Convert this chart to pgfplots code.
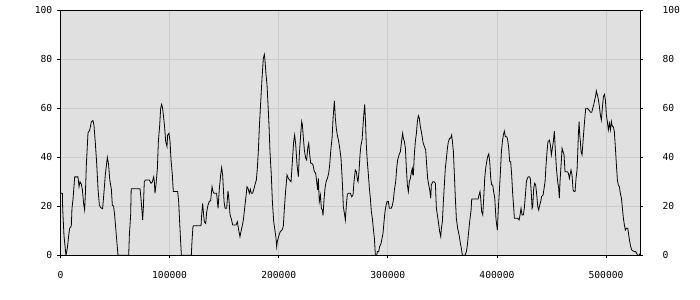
\documentclass[border=0pt]{standalone}
\usepackage{fontspec}
\setmonofont{DejaVu Sans Mono}
\usepackage{pgfplots}
\pgfplotsset{compat=1.18}
\definecolor{bg}{HTML}{E0E0E0}
\definecolor{gridc}{HTML}{CCCCCC}
\begin{document}
\begin{tikzpicture}
\pgfplotsset{
  common/.style={
    scale only axis, width=579.8bp, height=245bp,
    at={(0,0)}, anchor=south west,
    xmin=0, xmax=531400, ymin=0, ymax=100,
    ytick={0,20,...,100},
    tick label style={font=\ttfamily\fontsize{9.7}{11}\selectfont, inner sep=0pt},
    /pgf/number format/assume math mode=true,
    tick align=outside,
    major tick length=3bp,
    tick style={black, line width=0.8bp},
    axis line style={black, line width=0.8bp},
  }
}
\begin{axis}[common,
  axis background/.style={fill=bg},
  xtick={0,100000,200000,300000,400000,500000},
  scaled x ticks=false,
  xticklabel={\pgfmathprintnumber[fixed,precision=0,1000 sep={},assume math mode=true]{\tick}},
  xticklabel style={anchor=north, yshift=-13bp},
  yticklabel style={anchor=east, xshift=-5bp},
  grid=major, major grid style={gridc, line width=0.8bp},
  ytick pos=left, xtick pos=bottom,
]
\addplot[black, line width=0.8bp] coordinates {
(0,25.3)(1700,25.3)(2000,19)(3200,8)(5000,0)(6300,3)(7500,8)(8400,11)(9900,12)(10500,19)
(11500,23)(13000,32)(16000,32)(17000,28)(17900,30)(19100,29)(20000,27)(21200,21)(22100,18.5)(22800,25)
(23700,37)(25200,50)(26700,51)(28300,54.5)(29800,55)(30700,53)(31900,46)(33100,38)(34400,27)(35600,20.5)
(36800,19.5)(38600,19)(39900,26)(41100,33)(42300,37.5)(42900,40)(44100,37)(45100,31)(46600,27)(47500,20.5)
(48700,20)(49600,16.5)(51200,8)(52700,0)(62500,0)(63100,8)(64300,16.5)(64800,27.2)
(72900,27.2)(73800,23)(74700,18)(75300,14.4)(75900,19)(76800,30)(77800,30.7)(81400,30.7)(83000,29.4)(84200,30)
(85400,32)(86000,30)(86600,25.3)(87500,28.7)(88800,35.5)(89700,46.4)(90900,53)(91800,60)(92700,61.6)(93600,60)
(94600,56)(95500,52)(96400,46.4)(97600,44.4)(98200,49)(99400,49.8)(100400,46.4)(101300,39)(102500,32.8)(103400,26)
(107400,26)(108300,22)(109200,13.7)(110100,5.6)(110800,0)(119900,0)(120500,5.6)(121400,11.7)(122100,12.1)(128800,12.1)
(129400,16.5)(130300,21.2)(130900,18)(131800,13.7)
(133100,13)(134000,17.8)(135200,20.5)(136400,22)(137600,22.3)(138900,28)(139800,26)(140700,25.3)(143100,25.3)(144400,19.2)
(145600,27.3)(146800,32.8)(147700,35.8)(148600,32.8)(149900,22)(150800,19.2)(152300,19.2)(153500,26.3)(154400,22.6)(155400,16.5)
(156600,14.8)(157800,12.4)(160900,12.4)(162100,13.7)(163300,10.3)(164500,7.6)(165100,9)(166100,11)(167600,14.4)(168800,19.2)
(170000,24)(170900,28)(171900,27.3)(173100,25.3)(174000,27)(174900,25.3)(176100,25.3)(177400,27.3)(178600,29.4)(179500,30.7)
(180400,35.5)(181300,42.3)(182200,51.8)(183500,62.7)(184700,72.2)(185900,80.4)(186800,82)(187400,79.7)(188400,73.6)(189300,69.5)
(190200,61.4)(191100,53.2)(192000,42.3)(193200,32.8)(194200,22)(195400,13.7)(196300,11)(197500,7)(198100,3.5)(198700,5.6)
(200300,8.3)(201500,9.7)(203000,10.3)(204200,11.7)(205200,19.2)(206400,26.7)(207600,32.8)(208800,31.4)(210100,30.7)(211300,30)
(212500,38.2)(213700,46.4)(214600,49.1)(215600,45)(216800,36.9)(218000,32.1)(218900,41)(220100,49.1)(221100,54.6)(221700,53.2)
(222600,47.8)(223500,43)(224700,39.6)(225600,38.9)(226600,43.7)(227500,45.7)(228400,41)(229300,37.6)(230200,37.6)(231400,36.9)
(232700,34.1)(233900,33.5)(234800,30)(235700,26.7)(236300,31.4)(237200,21.9)(238200,24.6)(239100,19.2)(240000,18.5)(240600,16.2)
(241500,22.6)(242400,27.3)(243400,30)(244600,31.4)(245800,33.5)(246700,36.9)(247900,43.7)(248900,47.8)(249800,55.9)(251000,63)
(251900,55.9)(252800,51.8)(253700,49.1)(255000,46.4)(255900,43.7)(257100,39.6)(258300,30)(259200,19.9)(260200,17.1)(261100,14.4)
(262000,20.5)(262900,24.9)(263800,25.3)(265700,25.3)
(266900,23.9)(268100,24.6)(269000,30)(270200,34.8)(271200,34.1)(272100,30.7)(272700,30)(273600,34.1)(274500,41)(275400,45)
(276400,47)(277300,53.2)(278200,58.6)(278800,61.6)(279400,55.9)(280300,45)(281200,38.2)(282200,32.8)(283100,27.3)(284000,23.3)
(284900,17.8)(285800,15.1)(286700,11)(287700,6.9)(288600,0)(289800,0)(290400,1.5)(291600,1.5)(292500,3.5)(293800,4.9)
(294700,6.9)(295600,9)(296500,13.7)(297400,17.8)(298400,20.5)(299300,21.9)(300500,21.9)(301400,19.2)(303200,19.2)(304200,20.5)
(305100,22.6)(306000,26.7)(307200,30)(308100,35.5)(309000,38.9)(310300,41)(311500,42.3)(312700,47)(313600,49.8)(314200,47.8)
(315200,46.4)(316100,43.7)(317000,35.5)(317900,28.7)(318800,26)(319700,30)(320700,31.4)(321600,34.1)(322500,35.5)(322800,32.8)
(323400,32.8)(324300,41)(325200,46.4)(326200,49.8)(327100,54.6)(328000,57)(328900,55.9)(329800,52.5)(330700,50.5)(331700,47.8)
(332300,46)(333800,44)(334700,43)(335600,36.9)(336500,31.4)(337500,28.7)(338400,26.7)(339300,23.3)(339900,28.7)(341100,30)
(342400,30)(343600,29.4)(344500,19.2)(345400,16.5)(346300,13.7)(347500,9.7)(348500,7.6)(349100,11)(350000,13.7)(350900,21.9)
(351800,28.7)(352700,35.5)(353700,39.6)(354600,43.7)(355500,46.4)(356700,47.8)(357600,47.8)(358500,49.1)(359200,46.4)(360100,42.3)
(361000,32.8)(361900,23.3)(362800,15.1)(364000,11)(365300,8.3)(366500,4.9)(367400,2.9)(368300,0)(370800,0)(372000,1.5)
(372900,4.2)(373800,8.3)(375000,13.7)(376300,18.5)(376900,23)(382700,23)(383600,24.6)(384500,26)(385100,23.3)(386000,17.8)
(387000,16.5)(387900,23.3)(388800,31.4)(389700,35.5)(390600,38.2)(391500,40.3)(392500,41.4)(393400,38.2)(394300,31.4)(395200,28.7)
(396100,28.7)(397000,26)(398000,23.3)(398900,16.5)
(399200,14.5)(400400,10.3)(401300,19.2)(402200,26)(403200,34.1)(404100,42.3)(405000,46.4)(405900,49.1)(406800,50.7)(407700,48.4)
(409000,48.4)(409900,47)(410800,43.7)(411700,38.2)(412600,38.2)(413500,32.8)(414500,24.6)(415400,19.2)(416000,15.1)(419000,15.1)
(420300,14.4)(421200,16.5)(422100,19.2)(423000,16.5)(424200,16.5)(425100,19.2)(426100,24.6)(427000,30)(427900,31.4)(428800,32.1)
(429700,32.1)(430600,31.4)(431600,24.6)(432200,19.2)(432800,19.9)(433700,27.3)(434600,29.4)(435500,28.7)(436500,24.6)(437400,19.9)
(438300,18.5)(439200,20.5)(440100,21.9)(441000,24)(442300,24.6)(443200,27.3)(444100,30)(445000,36.9)(445900,42.3)(446800,46.4)
(448100,47)(449000,45)(449900,41)(450800,43.7)(451700,46.4)(452600,50.7)(453600,42.3)(454500,35.5)(455700,30)(456600,27.3)
(457200,23.3)(457800,30)(458800,36.9)(459700,43.7)(460600,42.3)(461500,41)(462400,34.1)(464600,34.1)(465500,33.5)(466400,31.4)
(467000,32.8)(467900,34.8)(468800,32.8)(469800,26.7)(470700,26)(471600,26)(472500,31.4)(473400,34.8)(474000,41)(474600,49.1)
(475300,54.6)(475900,49.1)(476500,46.4)(477100,42.3)(478000,41)(478900,46.4)(479800,51.8)(480800,57.3)(481400,60)(482900,60)
(484400,59.3)(485600,58.4)(486900,58.4)(487800,60)(488700,61.4)(489600,63.4)(490500,65.2)(491100,67.1)(492100,65.4)(493000,63.4)
(493900,60.7)(494800,57.3)(495700,55.2)(496600,60)(497600,64.8)(498500,65.7)(499400,63.4)(500300,57.3)(501200,54.6)(502100,51.2)
(503100,53.9)(504000,51.2)(504900,54.6)(505800,52.5)(506700,52.5)(507600,50.5)(508600,43.7)(509500,36.9)(510400,30.7)(511300,28.7)
(512200,28)(513100,25.3)(514100,23.3)(515000,19.2)(515900,15.1)(516800,12.4)(517700,10.3)(518600,11)(519900,11)(520800,8.3)
(521700,5.6)(522600,3.5)(523500,2.2)(524700,1.8)(526000,1.5)(527200,1.5)(528100,0.8)(529000,0)(530200,0)(531400,0.8)
};
\end{axis}
\begin{axis}[common,
  axis x line=none, axis y line*=right,
  yticklabel style={anchor=west, xshift=19bp},
]
\end{axis}
\pgfresetboundingbox
\path[use as bounding box] (-60.5bp,-44.7bp) rectangle (639.5bp,255.3bp);
\end{tikzpicture}
\end{document}
